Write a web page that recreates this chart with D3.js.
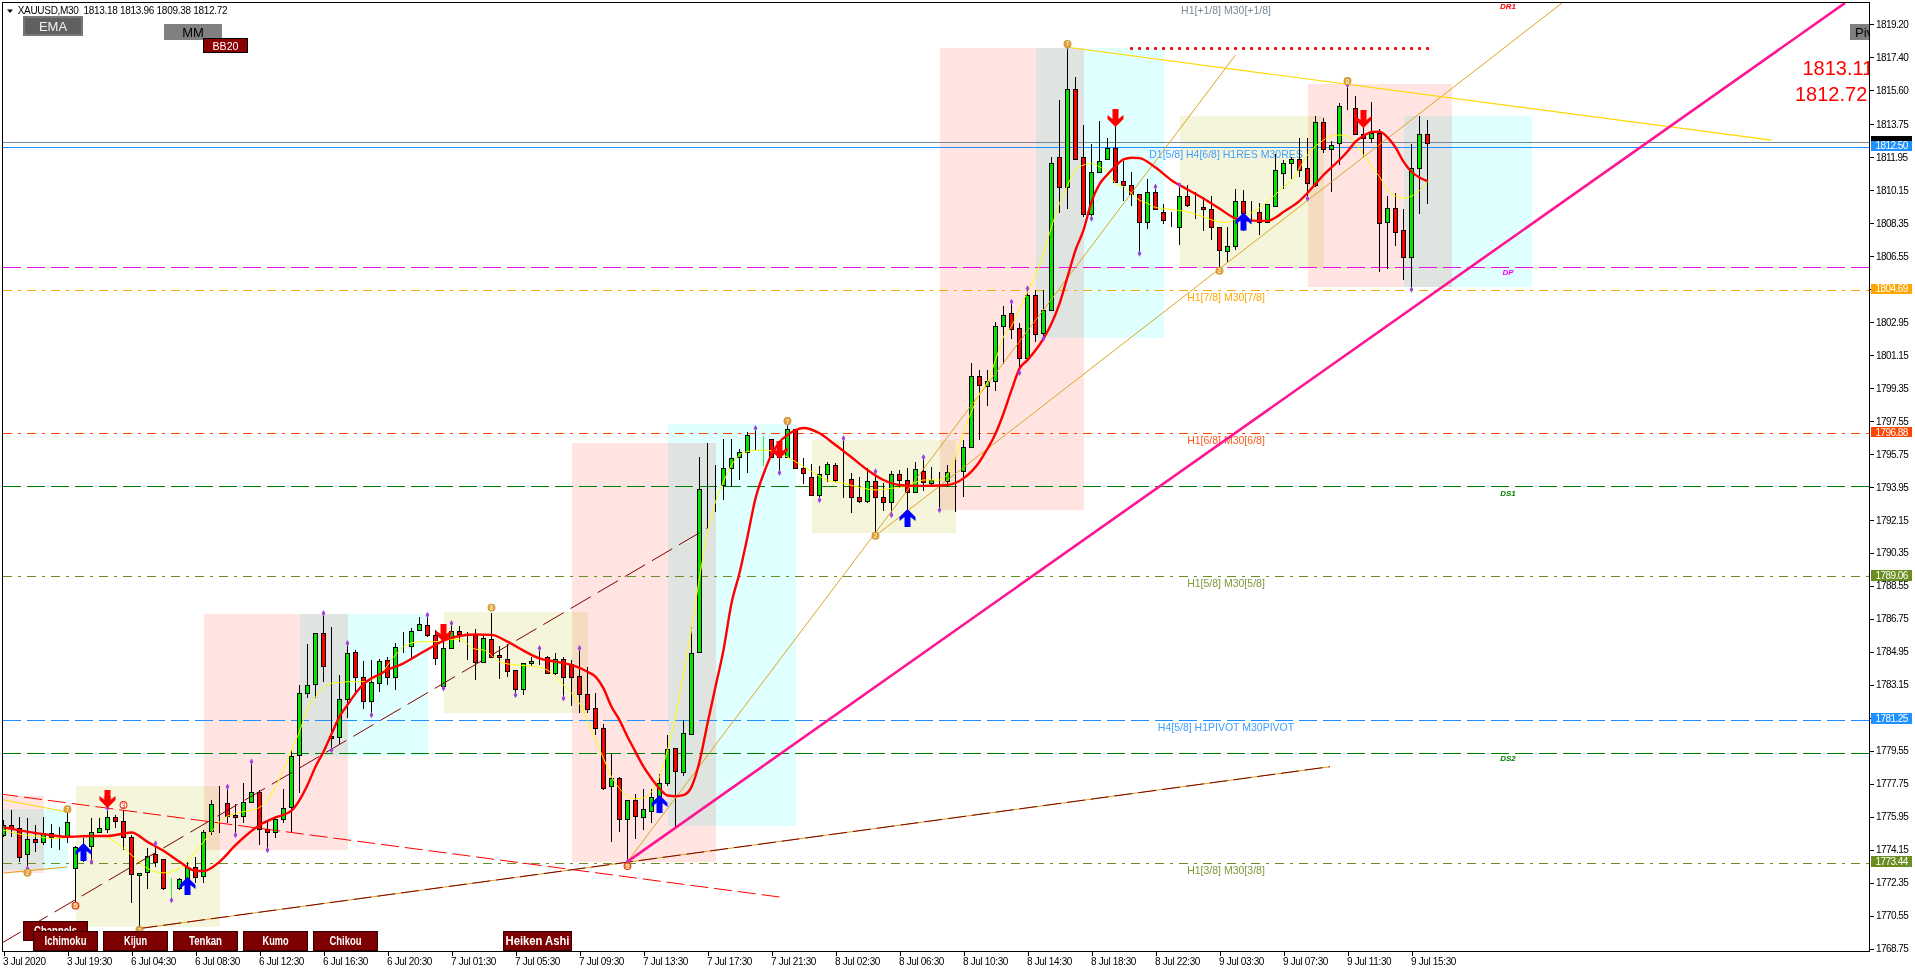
<!DOCTYPE html>
<html><head><meta charset="utf-8">
<script src="https://cdn.jsdelivr.net/npm/d3@7"></script>
<style>
html,body{margin:0;padding:0;background:#fff;overflow:hidden}
svg{display:block;font-family:"Liberation Sans",Arial,sans-serif}
.axis text{fill:#000;font-size:10px;font-family:"Liberation Sans",Arial,sans-serif}
.axis line{stroke:#000;shape-rendering:crispEdges}
.axis .domain{display:none}
</style></head><body>
<svg id="c" width="1915" height="972"></svg>
<script>
// ---------- data: candles (bar index = position in the arrays) ----------
const opens=[
1774.95,1775.49,1775.31,1773.89,1774.71,1774.55,1775.08,1774.86,1774.82,1773.18,
1773.75,1774.37,1775.13,1775.29,1775.91,1775.70,1774.86,1772.75,1772.91,1773.89,
1773.62,1772.04,1772.04,1772.53,1773.22,1772.71,1775.17,1776.66,1776.68,1776.02,
1775.97,1776.73,1777.31,1775.26,1775.09,1775.82,1776.46,1779.30,1782.68,1783.18,
1785.99,1780.35,1780.28,1782.36,1784.92,1783.56,1782.25,1783.23,1784.50,1783.56,
1785.27,1785.27,1786.12,1786.40,1785.87,1783.08,1785.14,1786.11,1785.91,1785.87,
1784.41,1785.63,1784.76,1784.54,1783.96,1782.90,1784.32,1784.50,1784.65,1783.77,
1784.54,1784.28,1783.61,1782.63,1781.86,1780.77,1777.64,1778.09,1775.80,1776.89,
1775.91,1776.27,1776.31,1777.77,1779.68,1778.37,1780.44,1784.95,1793.87,1793.92,
1794.05,1795.00,1795.56,1795.87,1796.56,1796.60,1796.54,1796.05,1795.56,1797.09,
1795.00,1794.47,1793.52,1794.63,1795.12,1794.38,1794.36,1793.38,1793.16,1794.25,
1793.38,1793.12,1794.63,1794.30,1793.65,1794.83,1794.18,1794.28,1794.28,1794.78,
1794.80,1796.13,1800.02,1799.47,1799.73,1802.75,1803.41,1802.59,1800.99,1804.39,
1802.35,1803.62,1811.92,1810.28,1815.63,1811.92,1808.81,1811.15,1811.81,1812.46,
1810.64,1810.43,1809.95,1808.42,1810.06,1808.95,1808.44,1808.13,1809.81,1809.28,
1809.19,1809.08,1808.10,1806.82,1807.09,1809.52,1808.93,1808.97,1808.40,1809.28,
1811.08,1811.59,1811.81,1811.32,1810.41,1813.84,1812.36,1812.69,1814.66,1814.60,
1813.20,1812.96,1813.27,1808.38,1809.14,1807.94,1806.50,1811.36,1813.18];
const highs=[
1775.77,1776.31,1775.95,1775.86,1775.49,1775.95,1775.55,1775.40,1776.31,1774.35,
1774.77,1775.86,1775.86,1776.41,1776.04,1776.31,1774.95,1772.86,1774.22,1774.49,
1773.62,1772.58,1772.58,1773.49,1773.77,1775.22,1776.86,1777.62,1777.59,1776.64,
1777.81,1778.95,1777.41,1775.68,1775.99,1777.44,1779.59,1783.14,1785.38,1785.99,
1787.05,1786.29,1783.69,1785.41,1785.05,1784.45,1784.50,1784.54,1784.65,1785.41,
1786.05,1786.23,1786.87,1786.96,1786.14,1785.96,1786.51,1786.36,1786.05,1786.18,
1785.87,1787.05,1785.27,1785.38,1783.96,1784.32,1784.65,1785.14,1784.72,1784.90,
1784.65,1784.50,1785.14,1784.14,1782.68,1781.00,1779.37,1778.13,1776.89,1777.18,
1777.44,1777.44,1778.28,1780.41,1779.68,1781.22,1786.32,1795.60,1796.36,1795.14,
1796.54,1796.54,1795.99,1796.96,1797.14,1796.72,1796.54,1796.41,1797.42,1797.09,
1795.51,1795.20,1795.09,1795.32,1795.23,1796.60,1794.72,1794.47,1794.96,1794.78,
1794.14,1794.83,1794.87,1794.96,1795.32,1795.56,1795.05,1794.78,1795.14,1795.56,
1796.50,1800.73,1800.31,1800.35,1802.95,1803.81,1804.04,1802.90,1804.77,1804.68,
1804.68,1811.95,1815.08,1817.96,1816.29,1813.68,1812.68,1813.90,1812.96,1813.68,
1811.74,1811.10,1809.95,1810.72,1810.32,1809.37,1808.95,1810.41,1810.41,1810.04,
1809.77,1809.81,1808.10,1808.10,1810.22,1810.13,1809.52,1809.41,1809.37,1812.10,
1811.77,1811.95,1812.96,1813.00,1814.17,1814.06,1812.82,1814.91,1815.87,1815.27,
1813.69,1814.93,1813.45,1809.81,1809.96,1809.10,1812.65,1814.18,1813.96];
const lows=[
1774.82,1774.86,1773.49,1773.13,1774.04,1774.40,1774.22,1774.13,1774.49,1771.13,
1773.49,1773.49,1775.04,1775.04,1775.31,1774.13,1771.25,1769.85,1771.98,1773.22,
1771.94,1771.40,1771.94,1771.67,1772.31,1772.31,1774.95,1775.04,1775.59,1774.95,
1775.62,1776.68,1774.40,1774.13,1774.77,1775.62,1775.13,1777.22,1782.41,1782.41,
1783.32,1779.59,1779.86,1781.32,1782.68,1781.81,1781.50,1782.78,1783.14,1782.87,
1784.87,1784.54,1786.11,1785.78,1784.23,1782.96,1785.10,1785.50,1784.50,1783.41,
1784.32,1784.65,1783.48,1783.56,1782.59,1782.59,1784.17,1784.23,1783.74,1783.68,
1782.41,1781.99,1781.59,1781.59,1780.41,1777.40,1774.58,1775.13,1773.49,1774.76,
1775.25,1775.62,1776.13,1777.62,1775.40,1778.17,1780.44,1784.90,1791.68,1792.59,
1793.23,1793.92,1794.32,1794.72,1795.96,1795.09,1795.50,1794.72,1795.50,1794.98,
1794.10,1793.45,1793.23,1794.23,1794.23,1793.36,1792.50,1793.08,1793.08,1791.45,
1792.65,1792.41,1793.87,1792.68,1793.59,1793.74,1794.05,1792.68,1793.92,1792.59,
1793.41,1796.09,1796.49,1798.35,1799.18,1800.64,1802.04,1800.17,1800.91,1801.86,
1802.04,1803.62,1808.90,1809.10,1811.77,1808.68,1808.59,1811.14,1811.77,1810.53,
1809.53,1809.26,1806.68,1808.00,1809.04,1808.28,1808.13,1807.13,1809.19,1808.55,
1807.90,1807.40,1805.77,1806.22,1806.86,1807.91,1808.40,1807.68,1808.35,1809.28,
1810.22,1810.77,1810.86,1809.68,1810.32,1812.14,1810.05,1811.51,1814.51,1813.20,
1811.96,1812.73,1805.68,1805.81,1807.08,1805.23,1804.72,1808.83,1809.38];
const closes=[
1775.49,1775.35,1773.77,1774.71,1774.55,1775.04,1774.86,1774.82,1775.68,1774.31,
1774.40,1775.13,1775.31,1775.91,1775.70,1774.82,1772.82,1772.86,1773.82,1773.49,
1772.04,1772.06,1772.53,1773.22,1772.67,1775.13,1776.62,1776.66,1776.00,1775.91,
1776.73,1777.31,1775.26,1775.09,1775.80,1776.44,1779.28,1782.68,1783.12,1785.96,
1784.19,1780.25,1782.36,1784.87,1783.59,1782.25,1783.28,1784.43,1783.56,1785.23,
1785.27,1786.11,1786.45,1785.85,1784.59,1785.14,1786.11,1785.94,1785.91,1784.41,
1785.69,1784.68,1784.65,1783.92,1782.90,1784.32,1784.43,1784.50,1783.77,1784.54,
1783.59,1783.59,1782.63,1781.81,1780.77,1777.53,1778.09,1775.80,1776.89,1775.98,
1776.35,1777.00,1777.77,1779.62,1778.46,1780.50,1784.86,1793.81,1793.87,1793.92,
1795.00,1795.51,1795.83,1796.78,1796.56,1796.62,1795.60,1795.56,1797.09,1795.00,
1794.69,1793.50,1794.65,1795.18,1794.32,1794.38,1793.38,1793.19,1794.25,1793.38,
1793.12,1794.65,1794.30,1793.67,1794.90,1794.19,1794.30,1794.28,1794.74,1794.78,
1796.14,1799.98,1799.53,1799.73,1802.71,1803.30,1802.57,1800.99,1804.39,1802.31,
1803.62,1811.63,1810.32,1815.63,1811.81,1808.86,1811.15,1811.74,1812.41,1810.59,
1810.43,1809.90,1808.42,1810.06,1809.11,1808.48,1808.44,1809.81,1809.33,1809.28,
1809.08,1808.13,1806.89,1807.11,1809.52,1808.90,1808.93,1808.40,1809.37,1811.21,
1811.59,1811.81,1811.26,1810.50,1813.83,1812.36,1812.62,1814.71,1814.66,1813.20,
1812.96,1813.27,1808.32,1809.14,1807.87,1806.50,1811.33,1813.18,1812.72];
const limeBars=[21,95];

// ---------- data: moving averages (sampled knots) ----------
const redBars=[0,5,8,11,13,16,18,20,22,24,25,27,29,32,34,36,37,38,39,40,41,42,43,44,45,46,47,48,50,52,54,55,57,59,61,63,65,67,69,71,73,74,75,76,77,78,79,80,81,82,83,84,85,86,87,88,89,90,91,92,93,94,95,96,97,98,99,100,102,104,106,108,110,112,114,116,118,120,122,123,124,125,126,127,128,129,130,131,132,133,134,135,136,137,138,139,140,141,142,144,146,148,150,152,154,155,157,158,159,160,162,163,164,165,166,167,168,169,170,171,172,173,174,175,176,177,178];
const redPrices=[1775.37,1775.00,1774.86,1774.90,1774.90,1775.09,1774.58,1774.09,1773.49,1773.00,1772.98,1773.49,1774.40,1775.49,1775.91,1776.28,1776.86,1777.68,1778.68,1779.50,1780.46,1781.41,1782.05,1782.68,1783.19,1783.50,1783.72,1783.96,1784.32,1784.83,1785.32,1785.56,1785.81,1785.89,1785.87,1785.50,1785.01,1784.59,1784.41,1784.23,1783.86,1783.59,1782.95,1781.95,1781.22,1780.31,1779.49,1778.68,1778.04,1777.49,1777.11,1777.07,1777.13,1777.58,1778.95,1781.04,1783.04,1785.05,1787.60,1789.25,1791.23,1793.32,1794.65,1795.70,1796.40,1796.78,1797.05,1797.16,1796.87,1796.23,1795.56,1794.87,1794.32,1794.05,1794.00,1794.01,1794.05,1794.41,1795.32,1796.03,1796.85,1797.95,1799.22,1800.40,1800.86,1801.40,1802.04,1802.86,1803.95,1805.40,1806.86,1807.95,1809.50,1810.46,1810.99,1811.44,1811.81,1811.90,1811.88,1811.37,1810.68,1810.17,1809.68,1809.13,1808.59,1808.50,1808.46,1808.46,1808.64,1808.95,1809.55,1809.98,1810.47,1810.96,1811.38,1811.78,1812.24,1812.78,1813.09,1813.31,1813.33,1813.02,1812.47,1811.69,1811.14,1810.83,1810.63];
const yellowBars=[0,2,4,6,8,10,12,13,14,16,18,20,21,23,24,25,26,27,29,31,32,33,34,35,36,37,38,39,40,41,42,43,45,47,49,50,52,54,56,57,59,60,62,64,66,68,70,72,74,75,76,77,78,79,80,81,82,83,84,85,86,87,88,89,90,91,92,93,95,97,99,101,103,105,107,109,111,113,115,117,119,120,121,122,123,124,125,126,127,128,129,130,131,132,133,134,135,136,137,138,139,140,141,142,143,144,146,148,150,152,153,154,156,158,160,161,163,164,165,166,167,168,169,170,171,172,173,174,175,176,177,178];
const yellowPrices=[1775.22,1775.00,1774.90,1774.77,1774.82,1774.90,1774.93,1774.82,1774.58,1773.86,1773.13,1772.89,1772.95,1773.49,1774.04,1774.58,1775.13,1775.68,1776.13,1776.31,1776.46,1776.86,1777.59,1778.50,1779.59,1780.59,1781.87,1782.50,1783.01,1783.23,1783.27,1783.32,1783.32,1783.69,1784.78,1785.23,1785.50,1785.50,1785.63,1785.63,1785.09,1785.05,1784.41,1784.23,1784.17,1783.95,1783.13,1782.13,1780.13,1779.13,1778.13,1777.49,1777.07,1776.93,1776.98,1777.31,1778.13,1779.59,1781.41,1783.77,1786.14,1789.00,1791.41,1793.14,1794.23,1795.14,1795.69,1795.87,1795.96,1795.78,1795.32,1794.78,1794.32,1794.14,1793.92,1793.78,1793.87,1794.00,1794.32,1794.32,1795.50,1796.96,1798.04,1799.04,1799.67,1800.86,1802.13,1802.71,1803.64,1804.57,1805.50,1806.68,1808.13,1809.41,1810.41,1811.23,1811.50,1811.59,1811.41,1811.14,1810.50,1810.32,1809.95,1809.59,1809.41,1809.19,1809.08,1808.95,1808.68,1808.40,1808.37,1808.59,1808.90,1809.50,1810.32,1810.68,1812.05,1812.54,1812.87,1813.09,1813.14,1813.09,1812.69,1812.05,1811.42,1810.87,1810.14,1809.81,1809.70,1809.81,1810.11,1810.60];

// ---------- data: tick labels ----------
const yTicks=[1819.20,1817.40,1815.60,1813.75,1811.95,1810.15,1808.35,1806.55,1804.75,1802.95,1801.15,1799.35,1797.55,1795.75,1793.95,1792.15,1790.35,1788.55,1786.75,1784.95,1783.15,1781.35,1779.55,1777.75,1775.95,1774.15,1772.35,1770.55,1768.75];
const xTickLabels=["3 Jul 2020","3 Jul 19:30","6 Jul 04:30","6 Jul 08:30","6 Jul 12:30","6 Jul 16:30","6 Jul 20:30","7 Jul 01:30","7 Jul 05:30","7 Jul 09:30","7 Jul 13:30","7 Jul 17:30","7 Jul 21:30","8 Jul 02:30","8 Jul 06:30","8 Jul 10:30","8 Jul 14:30","8 Jul 18:30","8 Jul 22:30","9 Jul 03:30","9 Jul 07:30","9 Jul 11:30","9 Jul 15:30"];
const xTickEvery=8;

// ---------- data: horizontal levels ----------
const levelPrices=[1812.75,1812.50,1805.93,1804.69,1796.88,1793.97,1789.06,1781.25,1779.45,1773.44];
const levelColors=["#778899","#1e90ff","#ee11dd","#ffa500","#ff4500","#008000","#6b8e23","#1e90ff","#008000","#6b8e23"];
const levelDash=["","","18,6","9,6,3,6","9,6,3,6","18,6","9,6,3,6","18,6","18,6","9,6,3,6"];
const levelWidths=[1,1,1,1,1,1,1,1,1.4,1];
const tagPrices=[1812.72,1812.50,1804.69,1796.88,1789.06,1781.25,1773.44];
const tagColors=["#000000","#1e90ff","#ffa500","#ff4500","#6b8e23","#1e90ff","#6b8e23"];

const noteTexts=["H1[+1/8] M30[+1/8]","D1[5/8] H4[6/8] H1RES M30RES","H1[7/8] M30[7/8]","H1[6/8] M30[6/8]","H1[5/8] M30[5/8]","H4[5/8] H1PIVOT M30PIVOT","H1[3/8] M30[3/8]"];
const notePrices=[1819.97,1812.50,1804.69,1796.88,1789.06,1781.25,1773.44];
const noteColors=["#778899","#3fa0ff","#ffa500","#ff5a20","#7d9a3a","#3fa0ff","#7d9a3a"];
const pivotTexts=["DR1","DP","DS1","DS2"];
const pivotPrices=[1820.13,1805.62,1793.60,1779.10];
const pivotColors=["#ff0000","#ff00ff","#008000","#008000"];

// ---------- data: shaded boxes ----------
const boxStart=[-3,-3,9,25,37,55,71,83,101,117,129,147,163,175];
const boxEnd=[5,8,27,43,53,73,89,99,119,135,145,165,181,191];
const boxTop=[1777.08,1776.37,1777.63,1787.01,1787.01,1787.12,1796.34,1797.38,1796.50,1817.89,1817.89,1814.18,1815.93,1814.20];
const boxBottom=[1772.90,1773.05,1769.95,1774.14,1779.28,1781.63,1773.50,1775.45,1791.45,1792.69,1802.09,1805.96,1804.87,1804.87];
const boxColors=["#ffe4e1","#e0ffff","#f5f5dc","#ffe4e1","#e0ffff","#f5f5dc","#ffe4e1","#e0ffff","#f5f5dc","#ffe4e1","#e0ffff","#f5f5dc","#ffe4e1","#e0ffff"];

// ---------- data: trend lines ----------
const pinkBars=[78,230.2],pinkPrices=[1773.50,1820.35];
const brownBars=[17,165.8],brownPrices=[1769.85,1778.68];
const channelBars=[-0.4,88],channelPrices=[1769.01,1791.70];
const redDashBars=[-0.4,97],redDashPrices=[1777.19,1771.57];
const goldBars=[133,221],goldPrices=[1817.93,1812.86];
const goldLeftBars=[0,8],goldLeftPrices=[1776.87,1776.21];
const orangeLeftBars=[0,8],orangeLeftPrices=[1772.88,1773.21];
const fanABars=[78,154],fanAPrices=[1773.50,1817.51];
const fanBBars=[109,195],fanBPrices=[1791.28,1820.41];
const dotBars=d3.range(141,179),dotPrice=1817.87;

// ---------- data: signals ----------
const downArrowBars=[13,55,97,139,170];
const downArrowPrices=[1776.43,1785.48,1795.47,1813.58,1813.53];
const upArrowBars=[10,23,82,113,155];
const upArrowPrices=[1774.52,1772.66,1777.14,1792.74,1808.91];
const fractalHighBars=[8,13,19,28,31,40,43,53,56,67,72,94,98,105,109,115,126,128,133,144,147,168];
const fractalLowBars=[3,11,17,21,29,33,41,46,55,64,70,78,97,102,111,117,127,130,136,142,152,163,176];
const waveBars=[3,8,9,13,15,17,61,78,98,109,133,152,168];
const wavePrices=[1772.90,1776.36,1771.10,1776.92,1776.59,1769.77,1787.36,1773.26,1797.54,1791.28,1818.11,1805.74,1816.09];
const waveDigits=["2","7","5","8","3","2","8","5","7","2","7","2","8"];

// ---------- scales ----------
const plotL=3,plotR=1869,plotT=3,plotB=951;
const x=d3.scaleLinear().domain([0,178]).range([3.5,3.5+8*178]);
const y=d3.scaleLinear().domain([1768.75,1819.20]).range([948.7,24]);
const svg=d3.select("#c");
const defs=svg.append("defs");
defs.append("clipPath").attr("id","plot").append("rect").attr("x",plotL).attr("y",plotT).attr("width",plotR-plotL).attr("height",plotB-plotT);
defs.append("clipPath").attr("id","edge").append("rect").attr("x",0).attr("y",0).attr("width",plotR).attr("height",972);
svg.append("rect").attr("width",1915).attr("height",972).attr("fill","#fff");
const plot=svg.append("g").attr("clip-path","url(#plot)");

// boxes (multiply gives the darker overlap colours)
const boxG=plot.append("g").style("isolation","isolate");
boxG.selectAll("rect").data(boxStart).join("rect")
 .attr("x",(d)=>x(d)).attr("width",(d,i)=>x(boxEnd[i])-x(d))
 .attr("y",(d,i)=>y(boxTop[i])).attr("height",(d,i)=>y(boxBottom[i])-y(boxTop[i]))
 .attr("fill",(d,i)=>boxColors[i]).style("mix-blend-mode","multiply").attr("shape-rendering","crispEdges");

// horizontal levels
plot.append("g").selectAll("line").data(levelPrices).join("line")
 .attr("x1",plotL).attr("x2",plotR)
 .attr("y1",d=>Math.round(y(d))+.5).attr("y2",d=>Math.round(y(d))+.5)
 .attr("stroke",(d,i)=>levelColors[i]).attr("stroke-width",(d,i)=>levelWidths[i])
 .attr("stroke-dasharray",(d,i)=>levelDash[i]||null).attr("shape-rendering","crispEdges");

// level notes
plot.append("g").selectAll("text").data(noteTexts).join("text")
 .attr("x",1226).attr("y",(d,i)=>i===0?10:y(notePrices[i])+7)
 .attr("text-anchor","middle").attr("dominant-baseline","central")
 .attr("font-size",10.5).attr("fill",(d,i)=>noteColors[i]).text(d=>d);
plot.append("g").selectAll("text").data(pivotTexts).join("text")
 .attr("x",1508).attr("y",(d,i)=>y(pivotPrices[i])).attr("text-anchor","middle").attr("dominant-baseline","central")
 .attr("font-size",8).attr("font-weight","bold").attr("font-style","italic").attr("fill",(d,i)=>pivotColors[i]).text(d=>d);

// candles
const candles=plot.append("g");
candles.selectAll("line").data(opens).join("line")
 .attr("x1",(d,i)=>x(i)).attr("x2",(d,i)=>x(i))
 .attr("y1",(d,i)=>y(highs[i])).attr("y2",(d,i)=>y(lows[i]))
 .attr("stroke",(d,i)=>limeBars.includes(i)?"#33ee33":"#000").attr("shape-rendering","crispEdges");
candles.selectAll("rect").data(opens).join("rect")
 .attr("x",(d,i)=>x(i)-2).attr("width",4)
 .attr("y",(d,i)=>Math.round(y(Math.max(d,closes[i])))+.5)
 .attr("height",(d,i)=>Math.max(0,Math.round(y(Math.min(d,closes[i])))-Math.round(y(Math.max(d,closes[i])))))
 .attr("fill",(d,i)=>closes[i]>d?"#00e600":(closes[i]<d?"#ff0000":"#000"))
 .attr("stroke",(d,i)=>limeBars.includes(i)?"#33ee33":"#000").attr("shape-rendering","crispEdges");

// trend lines
const seg=d3.line();
function trend(bars,prices,color,width,dash){
 plot.append("path").attr("d",seg(bars.map((b,i)=>[x(b),y(prices[i])])))
 .attr("fill","none").attr("stroke",color).attr("stroke-width",width).attr("stroke-dasharray",dash||null);
}
trend(goldLeftBars,goldLeftPrices,"#ffd700",1);
trend(orangeLeftBars,orangeLeftPrices,"#e0a020",1);
trend(fanABars,fanAPrices,"#daa520",1);
trend(fanBBars,fanBPrices,"#daa520",1);
trend(channelBars,channelPrices,"#800000",1,"23.5,8");
trend(redDashBars,redDashPrices,"#ff0000",1,"18,6");
trend(brownBars,brownPrices,"#daa520",1);
trend(brownBars,brownPrices,"#800000",1,"18,6");
trend(goldBars,goldPrices,"#ffd700",1.2);
trend(pinkBars,pinkPrices,"#ff1493",2.6);

// dotted line
plot.append("g").selectAll("rect").data(dotBars).join("rect")
 .attr("x",d=>x(d)-1.5).attr("y",y(dotPrice)-1.5).attr("width",3).attr("height",3).attr("rx",1).attr("fill","#ff0000");

// moving averages
const smooth=d3.line().curve(d3.curveMonotoneX);
plot.append("path").attr("d",smooth(yellowBars.map((b,i)=>[x(b),y(yellowPrices[i])])))
 .attr("fill","none").attr("stroke","#ffff00").attr("stroke-width",1);
plot.append("path").attr("d",smooth(redBars.map((b,i)=>[x(b),y(redPrices[i])])))
 .attr("fill","none").attr("stroke","#ff0000").attr("stroke-width",2.4);

// fractal marks
const fractals=plot.append("g").attr("fill","#a040e0");
const diamond=d3.symbol().type(d3.symbolDiamond).size(12);
fractals.selectAll(".h").data(fractalHighBars).join("path").attr("class","h").attr("d",diamond)
 .attr("transform",d=>`translate(${x(d)},${y(highs[d])})`);
fractals.selectAll(".l").data(fractalLowBars).join("path").attr("class","l").attr("d",diamond)
 .attr("transform",d=>`translate(${x(d)},${y(lows[d])})`);

// wave circles
const waves=plot.append("g");
waves.selectAll("circle").data(waveBars).join("circle")
 .attr("cx",d=>x(d)).attr("cy",(d,i)=>y(wavePrices[i])).attr("r",3.4)
 .attr("fill",(d,i)=>i===4?"#fff":"#e8a040").attr("stroke",(d,i)=>(i===2||i===4||i===7)?"#ee3322":"#c89a30").attr("stroke-width",1.1);
waves.selectAll("text").data(waveBars).join("text")
 .attr("x",d=>x(d)).attr("y",(d,i)=>y(wavePrices[i])).attr("text-anchor","middle").attr("dominant-baseline","central")
 .attr("font-size",6.5).attr("fill",(d,i)=>i===4?"#ee3322":"#fff5e0").text((d,i)=>waveDigits[i]);

// signal arrows
const arrowDown=d3.line()([[0,0],[8,-8],[8,-12],[3,-8],[3,-18],[-3,-18],[-3,-8],[-8,-12],[-8,-8]])+"Z";
plot.append("g").selectAll("path").data(downArrowBars).join("path").attr("d",arrowDown).attr("fill","#ff0000")
 .attr("transform",(d,i)=>`translate(${x(d)},${y(downArrowPrices[i])})`);
plot.append("g").selectAll("path").data(upArrowBars).join("path").attr("d",arrowDown).attr("fill","#0000ff")
 .attr("transform",(d,i)=>`translate(${x(d)},${y(upArrowPrices[i])}) scale(1,-1)`);

// big prices
const bigText=svg.append("g").attr("clip-path","url(#edge)");
bigText.append("text").attr("x",1802.5).attr("y",68).attr("dominant-baseline","central").attr("font-size",20).attr("fill","#ff0000").text("1813.11");
bigText.append("text").attr("x",1795).attr("y",94).attr("dominant-baseline","central").attr("font-size",20).attr("fill","#ff0000").text("1812.72");

// buttons
function button(g,bx,by,w,h,fill,stroke,label,color,size,sw,textW){
 const b=g.append("g");
 b.append("rect").attr("x",bx+sw/2).attr("y",by+sw/2).attr("width",w-sw).attr("height",h-sw).attr("fill",fill).attr("stroke",stroke).attr("stroke-width",sw).attr("shape-rendering","crispEdges");
 const t=b.append("text").attr("x",bx+w/2).attr("y",by+h/2).attr("text-anchor","middle").attr("dominant-baseline","central").attr("font-size",size).attr("fill",color).text(label);
 if(textW)t.attr("textLength",textW).attr("lengthAdjust","spacingAndGlyphs").attr("font-weight","bold");
}
const btn=svg.append("g");
button(btn,23,16,60,20,"#606060","#787878","EMA","#f0f0f0",13,2);
button(btn,164,24,58,16,"#808080","#808080","MM","#000",13,1);
button(btn,203,38,45,15,"#8b0000","#000","BB20","#fff",10.6,1);
const bottomLabels=["Channels","Ichimoku","Kijun","Tenkan","Kumo","Chikou","Heiken Ashi"];
const bottomX=[23,33,103,173,243,313,503];
const bottomW=[65,65,65,65,65,65,69];
const bottomY=[921,931,931,931,931,931,931];
const bottomTextW=[43,42,23,33,26,32,64];
bottomLabels.forEach((l,i)=>button(btn,bottomX[i],bottomY[i],bottomW[i],20,"#7f0000","#330000",l,"#fff",12.5,1,bottomTextW[i]));
const piv=svg.append("g").attr("clip-path","url(#edge)");
piv.append("rect").attr("x",1850).attr("y",24).attr("width",25).attr("height",16).attr("fill","#808080");
piv.append("text").attr("x",1855).attr("y",32).attr("dominant-baseline","central").attr("font-size",13).attr("fill","#000").text("Piv");

// frame
svg.append("rect").attr("x",2.5).attr("y",2.5).attr("width",1867).attr("height",949).attr("fill","none").attr("stroke","#000").attr("shape-rendering","crispEdges");

// title
svg.append("path").attr("d",d3.line()([[7,9.5],[13,9.5],[10,13]])+"Z").attr("fill","#000");
svg.append("text").attr("x",17.7).attr("y",10.7).attr("dominant-baseline","central").attr("font-size",10).style("letter-spacing","-0.3px").style("white-space","pre").attr("fill","#000")
 .text("XAUUSD,M30  1813.18 1813.96 1809.38 1812.72");

// axes
const yAxis=d3.axisRight(y).tickValues(yTicks).tickFormat(d3.format(".2f")).tickSize(4).tickPadding(2.5);
const ga=svg.append("g").attr("class","axis").attr("transform","translate(1869.5,0)").call(yAxis);
ga.selectAll("text").style("letter-spacing","-0.55px");
const xTickBars=xTickLabels.map((d,i)=>i*xTickEvery);
const xAxis=d3.axisBottom(x).tickValues(xTickBars).tickFormat((d,i)=>xTickLabels[i]).tickSize(4).tickPadding(2.5);
const gb=svg.append("g").attr("class","axis").attr("transform","translate(0,951.5)").call(xAxis);
gb.selectAll("text").attr("text-anchor","start").attr("dx",-1).style("letter-spacing","-0.35px");

// price tags (the tag of the current price sits under the next one, its text is not readable)
const tags=svg.append("g");
tags.selectAll("rect").data(tagPrices).join("rect")
 .attr("x",1871).attr("width",41).attr("y",d=>y(d)-6.3).attr("height",10.4)
 .attr("fill",(d,i)=>tagColors[i]).attr("shape-rendering","crispEdges");
tags.selectAll("text").data(tagPrices.slice(1)).join("text")
 .attr("x",1875.5).attr("y",d=>y(d)-1).attr("dominant-baseline","central")
 .attr("font-size",10).style("letter-spacing","-0.55px").attr("fill","#fff").text(d=>d3.format(".2f")(d));
</script>
</body></html>
